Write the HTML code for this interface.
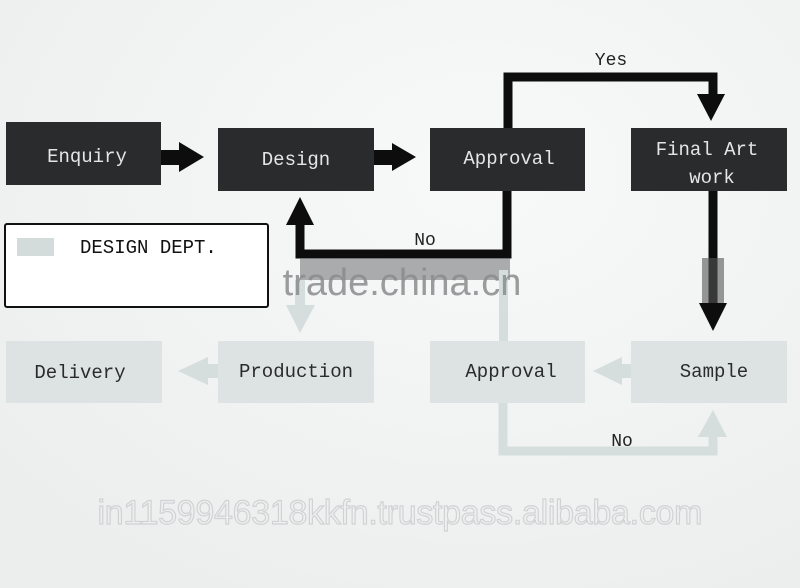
<!DOCTYPE html>
<html><head><style>
html,body{margin:0;padding:0;width:800px;height:588px;overflow:hidden;background:#f3f4f4}
svg{display:block}
text{font-family:"Liberation Mono",monospace}
</style></head><body>
<svg width="800" height="588" viewBox="0 0 800 588" xmlns="http://www.w3.org/2000/svg">
<defs>
<radialGradient id="bg" cx="0.6" cy="0.3" r="0.8">
<stop offset="0" stop-color="#f8f9f9"/><stop offset="1" stop-color="#eceeee"/>
</radialGradient>
</defs>
<rect width="800" height="588" fill="url(#bg)"/>

<!-- dark boxes -->
<g fill="#2a2b2d">
<rect x="6" y="122" width="155" height="63"/>
<rect x="218" y="128" width="156" height="63"/>
<rect x="430" y="128" width="155" height="63"/>
<rect x="631" y="128" width="156" height="63"/>
</g>
<g fill="#e4e6e6" font-size="19" text-anchor="middle">
<text x="87" y="162">Enquiry</text>
<text x="296" y="165">Design</text>
<text x="509" y="164">Approval</text>
<text x="707" y="155">Final Art</text>
<text x="712" y="183">work</text>
</g>

<!-- dark arrows -->
<g fill="#0d0d0d">
<rect x="161" y="150" width="20" height="15"/><polygon points="179,142 204,157 179,172"/>
<rect x="374" y="150" width="20" height="15"/><polygon points="392,143 416,157 392,171"/>
</g>
<g fill="none" stroke="#0d0d0d" stroke-width="9">
<polyline points="508,128 508,77 713,77 713,96"/>
<polyline points="507,191 507,254 300,254 300,224"/>
<line x1="713" y1="191" x2="713" y2="305"/>
</g>
<g fill="#0d0d0d">
<polygon points="697,94 725,94 711,121"/>
<polygon points="286,225 314,225 300,197"/>
<polygon points="699,303 727,303 713,331"/>
</g>
<text x="611" y="65" font-size="18" fill="#222" text-anchor="middle">Yes</text>
<text x="425" y="245" font-size="18" fill="#222" text-anchor="middle">No</text>

<!-- shadow band -->
<rect x="300" y="258" width="210" height="22" fill="#6c6e70" opacity="0.55"/>
<rect x="702" y="258" width="22" height="45" fill="#555" opacity="0.6"/>

<!-- legend -->
<rect x="5" y="224" width="263" height="83" rx="2" fill="#fff" stroke="#111" stroke-width="2"/>
<rect x="17" y="238" width="37" height="18" fill="#d3dcdb"/>
<text x="80" y="253" font-size="19" fill="#111">DESIGN DEPT.</text>

<!-- light boxes -->
<g fill="#dde3e2">
<rect x="6" y="341" width="156" height="62"/>
<rect x="218" y="341" width="156" height="62"/>
<rect x="430" y="341" width="155" height="62"/>
<rect x="631" y="341" width="156" height="62"/>
</g>
<g fill="#2a2b2d" font-size="19" text-anchor="middle">
<text x="80" y="378">Delivery</text>
<text x="296" y="377">Production</text>
<text x="511" y="377">Approval</text>
<text x="714" y="377">Sample</text>
</g>

<!-- light arrows -->
<g fill="#d5dedd">
<rect x="206" y="364" width="12" height="14"/><polygon points="208,357 178,371 208,385"/>
<rect x="618" y="364" width="13" height="14"/><polygon points="622,357 593,371 622,385"/>
<rect x="295" y="280" width="10" height="27"/><polygon points="286,305 315,305 300,333"/>
<rect x="499" y="270" width="9" height="71"/>
<polygon points="698,437 727,437 713,410"/>
</g>
<polyline points="503,403 503,451 713,451 713,435" fill="none" stroke="#d5dedd" stroke-width="9"/>
<text x="622" y="446" font-size="18" fill="#222" text-anchor="middle">No</text>

<!-- watermarks -->
<text x="402" y="295" font-family="Liberation Sans,sans-serif" font-size="38" fill="#8a8c8e" text-anchor="middle" opacity="0.85" style="font-family:'Liberation Sans',sans-serif">trade.china.cn</text>
<text x="400" y="524" font-size="34" fill="none" stroke="#cfd3d4" stroke-width="1.2" text-anchor="middle" style="font-family:'Liberation Sans',sans-serif" textLength="605">in1159946318kkfn.trustpass.alibaba.com</text>
</svg>
</body></html>
